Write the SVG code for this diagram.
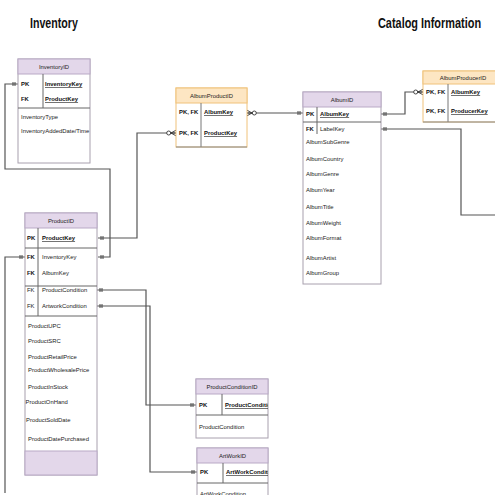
<svg xmlns="http://www.w3.org/2000/svg" width="495" height="495" viewBox="0 0 495 495">
<style>
text{font-family:"Liberation Sans",Arial,sans-serif;font-size:5.9px;fill:#222}
.b{font-weight:bold;fill:#111}
.u{text-decoration:underline}
.h{text-anchor:middle}
.title{font-size:14px;font-weight:bold;fill:#111}
.box{fill:#fff;stroke:#a8a0ae;stroke-width:1}
.hd{fill:#e3d7ea;stroke:#b9a9c6;stroke-width:1}
.obox{fill:#fff;stroke:#f0c27a;stroke-width:1}
.ohd{fill:#fde6c3;stroke:#f0c27a;stroke-width:1}
.sep{stroke:#666;stroke-width:1;fill:none}
.osep{stroke:#777;stroke-width:1;fill:none}
.c{fill:none;stroke:#555;stroke-width:1.2}
</style>
<defs>
<marker id="one" viewBox="-12 -5 13 10" refX="0" refY="0" markerWidth="13" markerHeight="10" markerUnits="userSpaceOnUse" orient="auto-start-reverse">
<path d="M-3,-2V2M-5,-2V2" stroke="#333" stroke-width="0.9" fill="none"/>
</marker>
<marker id="many0" viewBox="-12 -5 13 10" refX="0" refY="0" markerWidth="13" markerHeight="10" markerUnits="userSpaceOnUse" orient="auto-start-reverse">
<path d="M-5,0L0,-2.8M-5,0L0,2.8M-5,0H0" stroke="#333" stroke-width="0.9" fill="none"/>
<circle cx="-7.3" cy="0" r="2" fill="#fff" stroke="#333" stroke-width="0.9"/>
</marker>
<clipPath id="cpc"><rect x="196" y="379" width="72" height="59"/></clipPath>
<clipPath id="cpa"><rect x="197" y="448" width="71" height="60"/></clipPath>
</defs>

<text class="title" transform="scale(0.76,1)" x="39.5" y="28">Inventory</text>
<text class="title" transform="scale(0.78,1)" x="484.6" y="28">Catalog Information</text>

<g id="connectors">
<polyline class="c" points="18,84 5,84 5,169 110,169 110,257 98,257" marker-start="url(#one)" marker-end="url(#one)"/>
<polyline class="c" points="5,493 5,257 25,257" marker-end="url(#one)"/>
<polyline class="c" points="176,133 137,133 137,238 98,238" marker-start="url(#many0)" marker-end="url(#one)"/>
<polyline class="c" points="247,113 303,113" marker-start="url(#many0)" marker-end="url(#one)"/>
<polyline class="c" points="381,114 405,114 405,92 423,92" marker-start="url(#one)" marker-end="url(#many0)"/>
<polyline class="c" points="381,129 461,129 461,215 495,215" marker-start="url(#one)"/>
<polyline class="c" points="97,290 146,290 146,405 196,405" marker-start="url(#one)" marker-end="url(#one)"/>
<polyline class="c" points="97,306 150,306 150,472 197,472" marker-start="url(#one)" marker-end="url(#one)"/>
</g>

<g id="InventoryID">
<rect class="box" x="18" y="59" width="72" height="104"/>
<rect class="hd" x="18" y="59" width="72" height="15"/>
<text class="h" x="54" y="69">InventoryID</text>
<line class="sep" x1="43" y1="74" x2="43" y2="108"/>
<line class="sep" x1="18" y1="108" x2="90" y2="108"/>
<text class="b" x="21" y="86">PK</text>
<text class="b u" x="45" y="86">InventoryKey</text>
<text class="b" x="21" y="101">FK</text>
<text class="b u" x="45" y="101">ProductKey</text>
<text x="21" y="119">InventoryType</text>
<text x="21" y="133">InventoryAddedDate/Time</text>
</g>

<g id="ProductID">
<rect class="box" x="25" y="213" width="72" height="262"/>
<rect class="hd" x="25" y="213" width="72" height="15"/>
<rect class="hd" x="25" y="451" width="72" height="24"/>
<text class="h" x="61" y="223">ProductID</text>
<line class="sep" x1="38" y1="228" x2="38" y2="316"/>
<line class="sep" x1="25" y1="248" x2="97" y2="248"/>
<line class="sep" x1="25" y1="286" x2="97" y2="286"/>
<line class="sep" x1="25" y1="316" x2="97" y2="316"/>
<text class="b" x="27" y="240">PK</text>
<text class="b u" x="42" y="240">ProductKey</text>
<text class="b" x="27" y="259">FK</text>
<text x="42" y="259">InventoryKey</text>
<text class="b" x="27" y="275">FK</text>
<text x="42" y="275">AlbumKey</text>
<text x="27" y="292">FK</text>
<text x="42" y="292">ProductCondition</text>
<text x="27" y="308">FK</text>
<text x="42" y="308">ArtworkCondition</text>
<text x="28" y="328">ProductUPC</text>
<text x="28" y="343">ProductSRC</text>
<text x="28" y="359">ProductRetailPrice</text>
<text x="28" y="372">ProductWholesalePrice</text>
<text x="28" y="389">ProductInStock</text>
<text x="25.5" y="404">ProductOnHand</text>
<text x="26" y="422">ProductSoldDate</text>
<text x="28" y="441">ProductDatePurchased</text>
</g>

<g id="AlbumProductID">
<rect class="obox" x="176" y="88" width="71" height="59"/>
<rect class="ohd" x="176" y="88" width="71" height="15"/>
<text class="h" x="211.5" y="98">AlbumProductID</text>
<line class="osep" x1="201" y1="103" x2="201" y2="147"/>
<line x1="176" y1="147" x2="247" y2="147" stroke="#888" stroke-width="1"/>
<text class="b" x="179" y="114">PK, FK</text>
<text class="b u" x="204" y="114">AlbumKey</text>
<text class="b" x="179" y="135">PK, FK</text>
<text class="b u" x="204" y="135">ProductKey</text>
</g>

<g id="AlbumID">
<rect class="box" x="303" y="92" width="78" height="192"/>
<rect class="hd" x="303" y="92" width="78" height="15"/>
<text class="h" x="342" y="102">AlbumID</text>
<line class="sep" x1="317" y1="107" x2="317" y2="134"/>
<line class="sep" x1="303" y1="122" x2="381" y2="122"/>
<text class="b" x="306" y="116">PK</text>
<text class="b u" x="320" y="116">AlbumKey</text>
<text class="b" x="306" y="131">FK</text>
<text x="320" y="131">LabelKey</text>
<text x="306" y="144">AlbumSubGenre</text>
<text x="306" y="161">AlbumCountry</text>
<text x="306" y="176">AlbumGenre</text>
<text x="306" y="192">AlbumYear</text>
<text x="306" y="209">AlbumTitle</text>
<text x="306" y="225">AlbumWeight</text>
<text x="306" y="240">AlbumFormat</text>
<text x="306" y="260">AlbumArtist</text>
<text x="306" y="275">AlbumGroup</text>
</g>

<g id="AlbumProducerID">
<rect class="obox" x="423" y="71" width="80" height="51"/>
<rect class="ohd" x="423" y="71" width="80" height="13"/>
<text class="h" x="463" y="80">AlbumProducerID</text>
<line class="osep" x1="448" y1="84" x2="448" y2="122"/>
<line x1="423" y1="122" x2="503" y2="122" stroke="#888" stroke-width="1"/>
<text class="b" x="426" y="94">PK, FK</text>
<text class="b u" x="451" y="94">AlbumKey</text>
<text class="b" x="426" y="113">PK, FK</text>
<text class="b u" x="451" y="113">ProducerKey</text>
</g>

<g id="ProductConditionID">
<rect class="box" x="196" y="379" width="72" height="59"/>
<rect class="hd" x="196" y="379" width="72" height="15"/>
<text class="h" x="232" y="389">ProductConditionID</text>
<line class="sep" x1="222" y1="394" x2="222" y2="415"/>
<line class="sep" x1="196" y1="415" x2="268" y2="415"/>
<text class="b" x="199" y="407">PK</text>
<text class="b u" x="225" y="407" clip-path="url(#cpc)">ProductConditio</text>
<text x="199" y="429">ProductCondition</text>
</g>

<g id="ArtWorkID">
<rect class="box" x="197" y="448" width="71" height="60"/>
<rect class="hd" x="197" y="448" width="71" height="15"/>
<text class="h" x="232.5" y="458">ArtWorkID</text>
<line class="sep" x1="223" y1="463" x2="223" y2="483"/>
<line class="sep" x1="197" y1="483" x2="268" y2="483"/>
<text class="b" x="200" y="474">PK</text>
<text class="b u" x="226" y="474" clip-path="url(#cpa)">ArtWorkConditi</text>
<text x="200" y="495.5">ArtWorkCondition</text>
</g>
</svg>
